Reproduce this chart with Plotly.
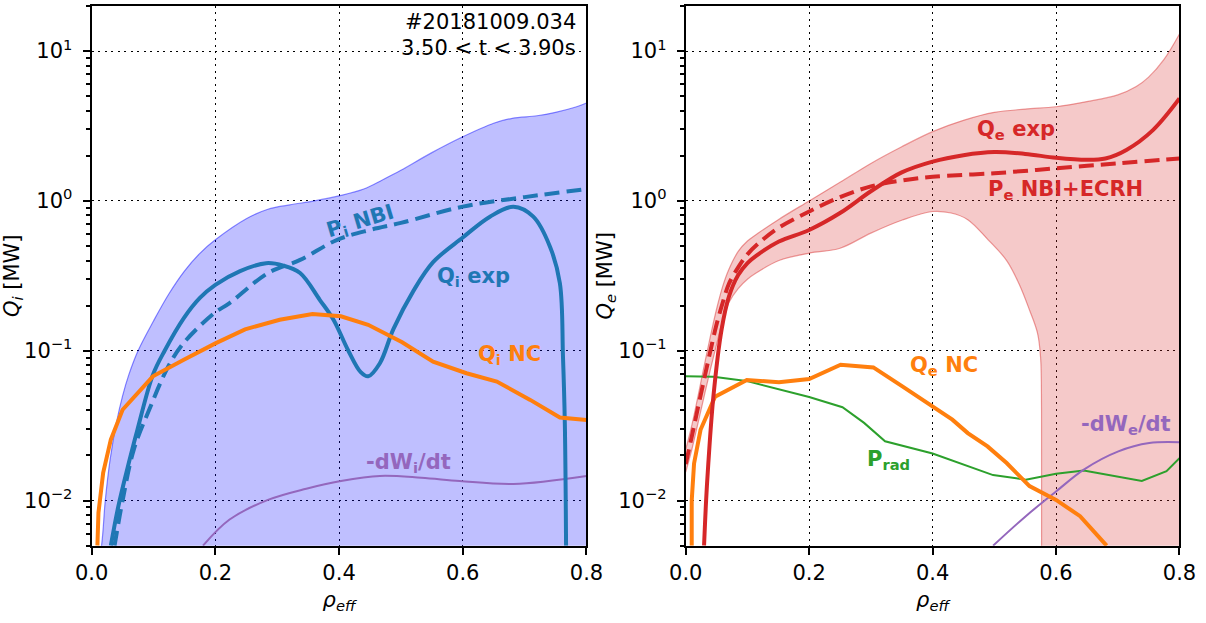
import numpy as np
import plotly.graph_objects as go
from plotly.subplots import make_subplots

# ---------------- ion channel (left panel) ----------------
rho_qi_band = [0.0, 0.016, 0.022, 0.03, 0.04, 0.05, 0.06, 0.075, 0.1, 0.125, 0.15, 0.175,
               0.2, 0.25, 0.285, 0.32, 0.36, 0.4, 0.44, 0.47, 0.5, 0.55, 0.6, 0.65, 0.68,
               0.72, 0.75, 0.78, 0.8]
qi_band_hi = [0.002, 0.005, 0.01, 0.019, 0.033, 0.05, 0.069, 0.1, 0.158, 0.24, 0.34, 0.447,
              0.55, 0.76, 0.88, 0.94, 1.0, 1.08, 1.2, 1.38, 1.6, 2.1, 2.68, 3.3, 3.56,
              3.7, 3.9, 4.2, 4.5]

rho_qi_exp = [0.031, 0.043, 0.056, 0.074, 0.099, 0.118, 0.149, 0.175, 0.2, 0.24, 0.282, 0.31,
              0.337, 0.369, 0.391, 0.415, 0.435, 0.447, 0.466, 0.488, 0.52, 0.552, 0.6, 0.644,
              0.682, 0.714, 0.741, 0.757, 0.762, 0.765, 0.767]
qi_exp = [0.005, 0.0091, 0.0153, 0.0297, 0.069, 0.1, 0.165, 0.225, 0.275, 0.34, 0.384, 0.37,
          0.33, 0.218, 0.161, 0.1, 0.072, 0.0675, 0.0826, 0.14, 0.25, 0.39, 0.57, 0.785,
          0.914, 0.785, 0.495, 0.282, 0.0914, 0.0328, 0.005]

rho_pi_nbi = [0.037, 0.05, 0.068, 0.093, 0.124, 0.149, 0.198, 0.223, 0.285, 0.337, 0.397,
              0.45, 0.5, 0.6, 0.7, 0.8]
pi_nbi = [0.005, 0.01, 0.0218, 0.0404, 0.0787, 0.113, 0.178, 0.208, 0.33, 0.404, 0.55,
          0.64, 0.713, 0.916, 1.06, 1.2]

rho_qi_nc = [0.0093, 0.011, 0.0186, 0.031, 0.05, 0.099, 0.149, 0.2, 0.248, 0.304, 0.357, 0.403,
             0.447, 0.502, 0.552, 0.606, 0.655, 0.709, 0.757, 0.8]
qi_nc = [0.005, 0.0083, 0.0153, 0.0255, 0.0404, 0.0675, 0.087, 0.112, 0.139, 0.161, 0.176, 0.17,
         0.149, 0.114, 0.0845, 0.0708, 0.0623, 0.047, 0.0358, 0.0345]

rho_dwi = [0.18, 0.223, 0.285, 0.347, 0.403, 0.466, 0.533, 0.595, 0.682, 0.8]
dwi_dt = [0.005, 0.00747, 0.0101, 0.012, 0.0135, 0.0146, 0.0142, 0.0135, 0.0129, 0.0146]

# ---------------- electron channel (right panel) ----------------
rho_qe_band_hi = [0.0, 0.01, 0.02, 0.03, 0.04, 0.05, 0.06, 0.07, 0.085, 0.1, 0.12, 0.15, 0.2,
                  0.25, 0.3, 0.35, 0.4, 0.45, 0.5, 0.55, 0.6, 0.65, 0.7, 0.73, 0.75, 0.775, 0.8]
qe_band_hi = [0.022, 0.032, 0.05, 0.08, 0.125, 0.19, 0.27, 0.35, 0.46, 0.54, 0.62, 0.75, 1.0,
              1.33, 1.78, 2.3, 2.9, 3.45, 3.9, 4.1, 4.25, 4.6, 5.1, 5.8, 6.7, 8.8, 13.0]

rho_qe_band_lo = [0.0, 0.01, 0.02, 0.03, 0.04, 0.05, 0.06, 0.07, 0.085, 0.1, 0.114, 0.151, 0.2,
                  0.25, 0.3, 0.351, 0.4, 0.43, 0.457, 0.49, 0.52, 0.54, 0.557, 0.57, 0.575,
                  0.5765, 0.5765, 0.5765, 0.8]
qe_band_lo = [0.0155, 0.022, 0.033, 0.05, 0.075, 0.11, 0.16, 0.21, 0.26, 0.3, 0.33, 0.40, 0.448,
              0.483, 0.61, 0.746, 0.85, 0.83, 0.75, 0.55, 0.40, 0.28, 0.187, 0.131, 0.09,
              0.04, 0.003, 1e-4, 1e-4]

rho_qe_exp = [0.0297, 0.033, 0.0366, 0.0448, 0.058, 0.07, 0.085, 0.1, 0.114, 0.151, 0.2, 0.25,
              0.3, 0.35, 0.4, 0.45, 0.5, 0.55, 0.6, 0.65, 0.68, 0.714, 0.757, 0.8]
qe_exp = [0.005, 0.01, 0.0177, 0.0494, 0.138, 0.23, 0.32, 0.385, 0.43, 0.536, 0.64, 0.83,
          1.16, 1.55, 1.83, 2.02, 2.12, 2.06, 1.94, 1.88, 1.92, 2.19, 2.97, 4.83]

rho_pe = [0.0, 0.01, 0.02, 0.03, 0.04, 0.05, 0.06, 0.07, 0.085, 0.1, 0.12, 0.15, 0.2, 0.25,
          0.3, 0.35, 0.4, 0.5, 0.6, 0.7, 0.8]
pe_nbi_ecrh = [0.0175, 0.027, 0.042, 0.065, 0.1, 0.15, 0.21, 0.28, 0.36, 0.44, 0.53, 0.66, 0.85,
               1.06, 1.25, 1.37, 1.45, 1.53, 1.65, 1.78, 1.92]

rho_qe_nc = [0.0097, 0.0097, 0.0135, 0.024, 0.0475, 0.099, 0.151, 0.2, 0.251, 0.304, 0.351, 0.4,
             0.432, 0.457, 0.489, 0.52, 0.557, 0.6, 0.639, 0.682]
qe_nc = [0.005, 0.01, 0.0177, 0.0297, 0.0494, 0.0638, 0.0617, 0.0648, 0.0807, 0.0774, 0.0578,
         0.0426, 0.0347, 0.0282, 0.023, 0.0178, 0.0125, 0.0101, 0.00787, 0.005]

rho_prad = [0.0, 0.045, 0.101, 0.151, 0.2, 0.254, 0.289, 0.323, 0.4, 0.498, 0.551, 0.6, 0.645,
            0.739, 0.779, 0.8]
p_rad = [0.0675, 0.067, 0.0625, 0.0555, 0.0491, 0.042, 0.033, 0.0249, 0.0206, 0.0148, 0.0138,
         0.0151, 0.0159, 0.0135, 0.0157, 0.0192]

rho_dwe = [0.498, 0.551, 0.6, 0.645, 0.701, 0.751, 0.8]
dwe_dt = [0.005, 0.00787, 0.0115, 0.0161, 0.0213, 0.0242, 0.0245]

# ---------------- styling ----------------
BLUE = "#1f77b4"
ORANGE = "#ff7f0e"
RED = "#d62728"
GREEN = "#2ca02c"
PURPLE = "#9467bd"
FONT = "DejaVu Sans"
Y_FLOOR = 1e-4          # band fill extends below the visible range
Y_MIN, Y_MAX = 0.005, 20.0
SMOOTH = 1.0

fig = make_subplots(rows=1, cols=2)


def line(x, y, color, width, col, dash=None, shape="spline"):
    fig.add_trace(go.Scatter(x=x, y=y, mode="lines",
                             line=dict(color=color, width=width, dash=dash, shape=shape,
                                       smoothing=SMOOTH),
                             hoverinfo="skip", showlegend=False), row=1, col=col)


# ion band: floor, then upper edge filled down to it
fig.add_trace(go.Scatter(x=[0.0, 0.8], y=[Y_FLOOR, Y_FLOOR], mode="lines",
                         line=dict(width=0), showlegend=False, hoverinfo="skip"), row=1, col=1)
fig.add_trace(go.Scatter(x=rho_qi_band, y=qi_band_hi, mode="lines", fill="tonexty",
                         fillcolor="rgba(0,0,255,0.25)",
                         line=dict(color="rgba(0,0,255,0.45)", width=1.2, shape="spline",
                                   smoothing=SMOOTH),
                         showlegend=False, hoverinfo="skip"), row=1, col=1)

line(rho_dwi, dwi_dt, PURPLE, 2, 1)
line(rho_pi_nbi, pi_nbi, BLUE, 4, 1, dash="15px,7px")
line(rho_qi_exp, qi_exp, BLUE, 4, 1)
line(rho_qi_nc, qi_nc, ORANGE, 4, 1, shape="linear")

# electron band
fig.add_trace(go.Scatter(x=rho_qe_band_lo, y=qe_band_lo, mode="lines",
                         line=dict(color="rgba(214,39,40,0.45)", width=1.2, shape="spline",
                                   smoothing=SMOOTH),
                         showlegend=False, hoverinfo="skip"), row=1, col=2)
fig.add_trace(go.Scatter(x=rho_qe_band_hi, y=qe_band_hi, mode="lines", fill="tonexty",
                         fillcolor="rgba(214,39,40,0.25)",
                         line=dict(color="rgba(214,39,40,0.45)", width=1.2, shape="spline",
                                   smoothing=SMOOTH),
                         showlegend=False, hoverinfo="skip"), row=1, col=2)

line(rho_prad, p_rad, GREEN, 2, 2, shape="linear")
line(rho_dwe, dwe_dt, PURPLE, 2, 2)
line(rho_qe_nc, qe_nc, ORANGE, 4, 2, shape="linear")
line(rho_pe, pe_nbi_ecrh, RED, 4, 2, dash="15px,7px")
line(rho_qe_exp, qe_exp, RED, 4, 2)

# ---------------- axes ----------------
minor_vals = [m * 10.0 ** e for e in (-3, -2, -1, 0, 1) for m in range(2, 10)]
minor_vals = [v for v in minor_vals if Y_MIN <= v <= Y_MAX]
GRID_DASH = "2px,4.5px"

common_x = dict(range=[0, 0.8], tickvals=[0, 0.2, 0.4, 0.6, 0.8], tickformat=".1f",
                showline=True, mirror=True, linecolor="black", linewidth=2,
                ticks="outside", ticklen=7, tickwidth=2, tickcolor="black",
                showgrid=True, gridcolor="black", gridwidth=1.2, griddash=GRID_DASH,
                zeroline=False, automargin=False,
                tickfont=dict(family=FONT, size=21, color="black"),
                title=dict(text="<i>ρ<sub>eff</sub></i>", standoff=8,
                           font=dict(family=FONT, size=21, color="black")))
common_y = dict(type="log", range=[np.log10(Y_MIN), np.log10(Y_MAX)],
                tickvals=[0.01, 0.1, 1, 10],
                ticktext=["10<sup>−2</sup>", "10<sup>−1</sup>", "10<sup>0</sup>", "10<sup>1</sup>"],
                showline=True, mirror=True, linecolor="black", linewidth=2,
                ticks="outside", ticklen=7, tickwidth=2, tickcolor="black",
                ticklabelstandoff=6,
                minor=dict(tickvals=minor_vals, ticks="outside", ticklen=4, tickwidth=1.5,
                           tickcolor="black", showgrid=False),
                showgrid=True, gridcolor="black", gridwidth=1.2, griddash=GRID_DASH,
                zeroline=False, automargin=False,
                tickfont=dict(family=FONT, size=21, color="black"))

fig.update_xaxes(**common_x)
fig.update_yaxes(**common_y)
fig.update_xaxes(domain=[0.0760, 0.4863], row=1, col=1)
fig.update_xaxes(domain=[0.5686, 0.9780], row=1, col=2)
fig.update_yaxes(domain=[0.1241, 0.9904])
fig.update_yaxes(title=dict(text="<i>Q<sub>i</sub></i> [MW]", standoff=0,
                            font=dict(family=FONT, size=21, color="black")), row=1, col=1)
fig.update_yaxes(title=dict(text="<i>Q<sub>e</sub></i> [MW]", standoff=0,
                            font=dict(family=FONT, size=21, color="black")), row=1, col=2)


# ---------------- labels ----------------
def label(text, x, y, color, col, angle=0, bold=True, xanchor="center", yanchor="middle"):
    ax = "x" if col == 1 else "x2"
    ay = "y" if col == 1 else "y2"
    fig.add_annotation(x=x, y=y, xref=ax, yref=ay, text=f"<b>{text}</b>" if bold else text,
                       showarrow=False, textangle=angle, xanchor=xanchor, yanchor=yanchor,
                       font=dict(family=FONT, size=21, color=color))


label("P<sub>i</sub> NBI", 0.434, np.log10(0.72), BLUE, 1, angle=-16.5)
label("Q<sub>i</sub> exp", 0.618, np.log10(0.31), BLUE, 1)
label("Q<sub>i</sub> NC", 0.676, np.log10(0.094), ORANGE, 1)
label("-dW<sub>i</sub>/dt", 0.512, np.log10(0.0179), PURPLE, 1)
label("#20181009.034", 0.786, np.log10(15.6), "black", 1, bold=False, xanchor="right")
label("3.50 < t < 3.90s", 0.786, np.log10(10.5), "black", 1, bold=False, xanchor="right")

label("Q<sub>e</sub> exp", 0.535, np.log10(2.97), RED, 2)
label("P<sub>e</sub> NBI+ECRH", 0.616, np.log10(1.18), RED, 2)
label("Q<sub>e</sub> NC", 0.419, np.log10(0.079), ORANGE, 2)
label("P<sub>rad</sub>", 0.328, np.log10(0.0187), GREEN, 2)
label("-dW<sub>e</sub>/dt", 0.713, np.log10(0.032), PURPLE, 2)

fig.update_layout(width=1206, height=623, margin=dict(l=0, r=0, t=0, b=0),
                  plot_bgcolor="white", paper_bgcolor="white",
                  font=dict(family=FONT, size=21, color="black"), showlegend=False)

fig.write_html("out.html")
